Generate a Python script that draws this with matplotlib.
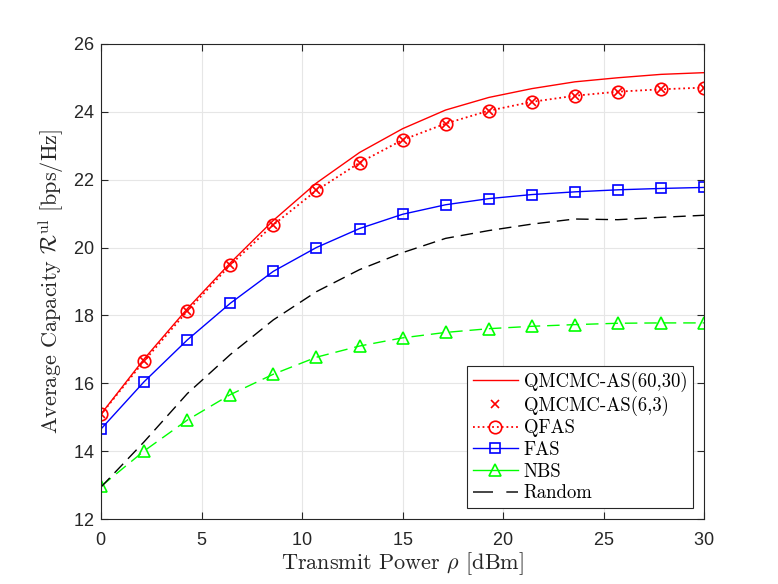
import numpy as np
import matplotlib
matplotlib.use("Agg")
import matplotlib.pyplot as plt
from matplotlib.lines import Line2D

plt.rcParams['mathtext.fontset'] = 'cm'
plt.rcParams['font.family'] = ['Liberation Sans', 'DejaVu Sans']
plt.rcParams['axes.formatter.use_mathtext'] = True

power = [0, 2.14, 4.29, 6.43, 8.57, 10.71, 12.86, 15, 17.14, 19.29, 21.43, 23.57, 25.71, 27.86, 30]
qmcmc_60_30 = [15.1, 16.72, 18.2, 19.55, 20.8, 21.9, 22.8, 23.5, 24.05, 24.42, 24.68, 24.88, 25.0, 25.1, 25.15]
qmcmc_6_3 = [15.09, 16.66, 18.13, 19.49, 20.67, 21.68, 22.5, 23.17, 23.65, 24.03, 24.29, 24.47, 24.59, 24.66, 24.71]
qfas = [15.09, 16.66, 18.13, 19.49, 20.67, 21.68, 22.5, 23.17, 23.65, 24.03, 24.29, 24.47, 24.59, 24.66, 24.71]
fas = [14.66, 16.05, 17.28, 18.36, 19.3, 20.0, 20.56, 20.98, 21.26, 21.44, 21.56, 21.64, 21.70, 21.74, 21.77]
nbs = [12.97, 14.01, 14.92, 15.67, 16.27, 16.77, 17.1, 17.34, 17.5, 17.61, 17.68, 17.73, 17.77, 17.78, 17.78]
random_sel = [12.95, 14.28, 15.7, 16.85, 17.87, 18.7, 19.35, 19.85, 20.27, 20.5, 20.69, 20.84, 20.82, 20.89, 20.95]

labels = ['QMCMC-AS(60,30)', 'QMCMC-AS(6,3)', 'QFAS', 'FAS', 'NBS', 'Random']

fig = plt.figure(figsize=(7.78, 5.84), dpi=100)
ax = fig.add_axes([0.130, 0.111, 0.775, 0.814])

lw = 1.0
ax.plot(power, qmcmc_60_30, '-', color='red', lw=lw)
ax.plot(power, qfas, ':', color='red', lw=1.3, marker='o', ms=9, mfc='none', mew=1.2)
ax.plot(power, qmcmc_6_3, 'x', color='red', ms=6, mew=1.2)
ax.plot(power, fas, '-', color='blue', lw=lw, marker='s', ms=6.5, mfc='none', mew=1.2)
ax.plot(power, nbs, '--', color='#00ff00', lw=lw, marker='^', ms=8, mfc='none', mew=1.2, dashes=(9, 5))
ax.plot(power, random_sel, '--', color='black', lw=lw, dashes=(9, 5))

ax.set_xlim(0, 30)
ax.set_ylim(12, 26)
ax.set_xticks(np.arange(0, 31, 5))
ax.set_yticks(np.arange(12, 27, 2))
ax.grid(True, color='#e6e6e6', lw=0.8)
ax.set_axisbelow(True)
ax.tick_params(direction='in', top=True, right=True, labelsize=13, colors='#262626', length=5, pad=5)
ax.tick_params(axis='x', pad=9)
for s in ax.spines.values():
    s.set_color('#262626')
    s.set_linewidth(0.8)

ax.set_xlabel(r'Transmit Power $\rho$ [dBm]', fontsize=16, family='cmr10', color='#262626', labelpad=1)
ax.set_ylabel(r'Average Capacity $\mathcal{R}^{\mathrm{ul}}$ [bps/Hz]', fontsize=16, family='cmr10', color='#262626', labelpad=5)

handles = [
    Line2D([], [], color='red', ls='-', lw=lw),
    Line2D([], [], color='red', ls='none', marker='x', ms=6, mew=1.2),
    Line2D([], [], color='red', ls=':', lw=1.3, marker='o', ms=9, mfc='none', mew=1.2),
    Line2D([], [], color='blue', ls='-', lw=lw, marker='s', ms=6.5, mfc='none', mew=1.2),
    Line2D([], [], color='#00ff00', ls='-', lw=lw, marker='^', ms=8, mfc='none', mew=1.2),
    Line2D([], [], color='#262626', ls='--', lw=1.2, dashes=(12, 8)),
]
leg = ax.legend(handles, labels, loc='lower right', fancybox=False,
                framealpha=1, edgecolor='#262626', borderpad=0.3, labelspacing=0.2,
                handlelength=2.4, handletextpad=0.3, borderaxespad=0.6,
                prop={'family': 'cmr10', 'size': 13.5})
leg.get_frame().set_linewidth(0.8)

fig.savefig('out.png', dpi=100)
